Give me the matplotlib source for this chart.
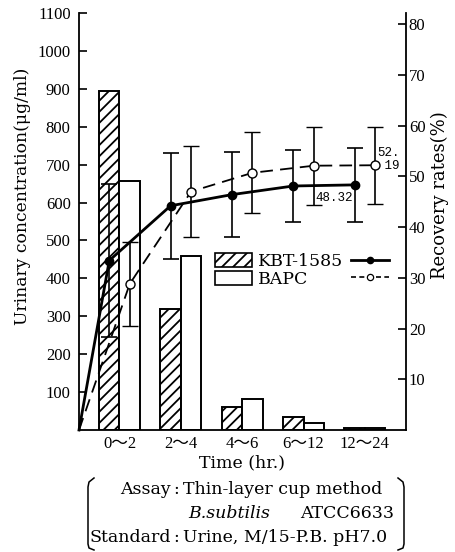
import matplotlib
matplotlib.use("Agg")
import matplotlib.pyplot as plt
from matplotlib.patches import Patch
from matplotlib.lines import Line2D
import numpy as np

# ---------------- data ----------------
categories = ["0～2", "2～4", "4～6", "6～12", "12～24"]
kbt_conc = [893, 319, 61, 35, 5]        # urinary concentration (µg/ml), hatched bars
bapc_conc = [658, 458, 82, 19, 4]       # urinary concentration (µg/ml), open bars
kbt_rec = [33.4, 44.2, 46.4, 48.1, 48.32]   # cumulative recovery rate (%)
kbt_err = [15.0, 10.5, 8.4, 7.1, 7.3]
bapc_rec = [28.8, 47.0, 50.7, 52.1, 52.19]
bapc_err = [8.3, 8.9, 8.0, 7.7, 7.6]
left_ticks = [100, 200, 300, 400, 500, 600, 700, 800, 900, 1000, 1100]
right_ticks = [10, 20, 30, 40, 50, 60, 70, 80]

plt.rcParams["hatch.linewidth"] = 1.3

W, H = 455, 552
def fx(px):
    return px / W
def fy(py):
    return 1 - py / H

fig = plt.figure(figsize=(W / 100, H / 100), dpi=100)
ax = fig.add_axes([fx(79), fy(430), (406 - 79) / W, (430 - 13) / H])
ax2 = ax.twinx()

serif = "DejaVu Serif"
tickfont = ["Liberation Serif", "Noto Sans CJK JP"]

x = np.arange(len(categories))
bw = 0.334
xlim = (-0.66, 4.67)

ax.bar(x - bw / 2, kbt_conc, width=bw, facecolor="white", edgecolor="black",
       hatch="///", linewidth=1.4, zorder=2)
ax.bar(x + bw / 2, bapc_conc, width=bw, facecolor="white", edgecolor="black",
       linewidth=1.4, zorder=2)

ax.set_xlim(*xlim)
ax.set_ylim(0, 1100)
ax2.set_ylim(0, 82.2)

# lines on the recovery axis, starting from the origin (time 0, recovery 0)
xk = np.concatenate([[xlim[0]], x - bw / 2])
yk = np.concatenate([[0], kbt_rec])
xb = np.concatenate([[xlim[0]], x + bw / 2])
yb = np.concatenate([[0], bapc_rec])

ax2.plot(xk, yk, color="black", lw=2.0, zorder=5, clip_on=False)
ax2.errorbar(x - bw / 2, kbt_rec, yerr=kbt_err, fmt="o", color="black",
             ms=6, ecolor="black", elinewidth=1.2, capsize=6, capthick=1.2, zorder=6)
ax2.plot(xb, yb, color="black", lw=1.3, ls=(0, (7, 4)), zorder=5, clip_on=False)
ax2.errorbar(x + bw / 2, bapc_rec, yerr=bapc_err, fmt="o", color="black",
             mfc="white", mec="black", mew=1.0, ms=6.5, ecolor="black",
             elinewidth=1.2, capsize=6, capthick=1.2, zorder=6)

ax2.annotate(f"{kbt_rec[-1]:.2f}", (x[-1] - bw / 2, kbt_rec[-1]), xytext=(-1, -5),
             textcoords="offset points", ha="right", va="top",
             fontsize=9, family="Liberation Mono")
b = f"{bapc_rec[-1]:.2f}".split(".")
ax2.annotate(b[0] + ".\n " + b[1], (x[-1] + bw / 2, bapc_rec[-1]), xytext=(1.5, 13),
             textcoords="offset points", ha="left", va="top",
             fontsize=9, family="Liberation Mono", linespacing=1.05)

# spines
for s in ["top", "right"]:
    ax.spines[s].set_visible(False)
for s in ["top", "left", "bottom"]:
    ax2.spines[s].set_visible(False)
for sp in [ax.spines["left"], ax.spines["bottom"], ax2.spines["right"]]:
    sp.set_linewidth(1.3)

ax.set_xticks(x)
ax.set_xticklabels(categories, family=tickfont, fontsize=12)
ax.tick_params(axis="x", length=0, pad=4)
ax.set_yticks(left_ticks)
ax.set_yticklabels([str(v) for v in left_ticks], family="Liberation Serif", fontsize=12)
ax.tick_params(axis="y", direction="in", length=6, width=1.2, pad=6)
ax2.set_yticks(right_ticks)
ax2.set_yticklabels([str(v) for v in right_ticks], family="Liberation Serif", fontsize=12)
ax2.tick_params(axis="y", direction="in", length=6, width=1.2, pad=2)

# axis titles
fig.text(fx(23), fy(196), "Urinary concentration(μg/ml)", rotation=90,
         ha="center", va="center", family=serif, fontsize=12.3)
fig.text(fx(440), fy(195), "Recovery rates(%)", rotation=90,
         ha="center", va="center", family=serif, fontsize=13)
fig.text(fx(242), fy(463), "Time (hr.)", ha="center", va="center",
         family=serif, fontsize=12.5)

# legend
handles = [Patch(facecolor="white", edgecolor="black", hatch="///", lw=1.2),
           Patch(facecolor="white", edgecolor="black", lw=1.2),
           Line2D([], [], color="black", lw=2.0, marker="o", ms=4.5),
           Line2D([], [], color="black", lw=1.2, ls=(0, (3, 2)), marker="o",
                  ms=4.5, mfc="white", mew=0.9)]
ax2.legend(handles, ["KBT-1585", "BAPC", "", ""], ncol=2, frameon=False,
           loc="upper left", bbox_to_anchor=((215 - 79) / 327, (430 - 253) / 417),
           borderpad=0, borderaxespad=0, handlelength=2.15, handleheight=0.86,
           handletextpad=0.3, columnspacing=0.5, labelspacing=0.05,
           prop={"family": serif, "size": 12.5})

# assay note
fs = 12.5
fig.text(fx(171), fy(490), "Assay", ha="right", va="center", family=serif, fontsize=fs)
fig.text(fx(176), fy(490), ":", ha="center", va="center", family=serif, fontsize=fs)
fig.text(fx(183), fy(490), "Thin-layer cup method", ha="left", va="center",
         family=serif, fontsize=fs)
fig.text(fx(188), fy(513), "B.subtilis", ha="left", va="center", family=serif,
         style="italic", fontsize=fs)
fig.text(fx(394), fy(513), "ATCC6633", ha="right", va="center", family=serif, fontsize=fs)
fig.text(fx(171), fy(537), "Standard", ha="right", va="center", family=serif, fontsize=fs)
fig.text(fx(176), fy(537), ":", ha="center", va="center", family=serif, fontsize=fs)
fig.text(fx(183), fy(537), "Urine, M/15-P.B. pH7.0", ha="left", va="center",
         family=serif, fontsize=fs)

# brackets
lb_x = [94, 89, 88, 88, 89, 94]
lb_y = [478, 482, 487, 544, 548, 550]
rb_x = [398, 403, 404, 404, 403, 398]
rb_y = [478, 482, 487, 544, 548, 550]
fig.add_artist(Line2D([fx(v) for v in lb_x], [fy(v) for v in lb_y], color="black", lw=1.1))
fig.add_artist(Line2D([fx(v) for v in rb_x], [fy(v) for v in rb_y], color="black", lw=1.1))

fig.savefig("out.png", dpi=100, facecolor="white")
